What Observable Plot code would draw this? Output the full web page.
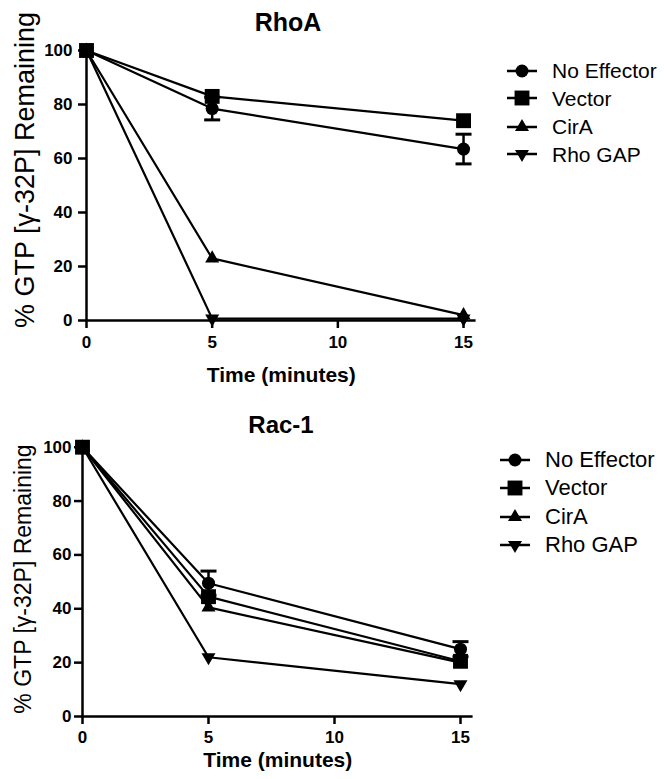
<!DOCTYPE html>
<html>
<head>
<meta charset="utf-8">
<script src="https://cdn.jsdelivr.net/npm/d3@7"></script>
<script src="https://cdn.jsdelivr.net/npm/@observablehq/plot@0.6"></script>
<style>
  html, body { margin: 0; padding: 0; background: #fff; }
  #page { position: relative; width: 664px; height: 779px; background: #fff; color: #000;
          font-family: "Liberation Sans", Arial, sans-serif; overflow: hidden; }
  .panel { position: absolute; left: 0; }
  .title { position: absolute; transform: translateX(-50%); font-weight: bold; white-space: nowrap; line-height: 1; }
  .ylab { position: absolute; white-space: nowrap; line-height: 1; transform: translate(-50%, -50%) rotate(-90deg); }
  .legrow { position: absolute; left: 0; display: flex; align-items: center; white-space: nowrap; line-height: 1; }
  .legrow svg { display: block; }
  .panel svg text { font-size: 17px !important; font-weight: bold !important; }
  .panel svg g[aria-label="x-axis label"] text { font-size: 21px !important; font-weight: bold !important; }
</style>
</head>
<body>
<div id="page"></div>
<script>
// ---------- data ----------
const times = [0, 5, 15];
const seriesNames = ["No Effector", "Vector", "CirA", "Rho GAP"];
const xTicks = [0, 5, 10, 15];
const yTicks = [0, 20, 40, 60, 80, 100];

// RhoA panel
const rhoaNoEffector = [100, 78.5, 63.5];
const rhoaVector     = [100, 83, 74];
const rhoaCirA       = [100, 23, 2];
const rhoaRhoGAP     = [100, 0.7, 0.7];
const rhoaNoEffectorErr = [0, 4.2, 5.5];

// Rac-1 panel
const racNoEffector = [100, 49.5, 25];
const racVector     = [100, 44.5, 20.5];
const racCirA       = [100, 40.5, 20];
const racRhoGAP     = [100, 22, 12];
const racNoEffectorErr = [0, 4.5, 2.8];

const title1 = "RhoA";
const title2 = "Rac-1";
const xLabel = "Time (minutes)";
const yLabel = "% GTP [γ-32P] Remaining";

// ---------- symbols ----------
const sqrt3 = Math.sqrt(3);
const markCircle = { draw(ctx, size) { const r = Math.sqrt(size / Math.PI) * 0.93; ctx.moveTo(r, 0); ctx.arc(0, 0, r, 0, 2 * Math.PI); } };
const markSquare = { draw(ctx, size) { const w = Math.sqrt(size) * 0.6; ctx.rect(-w, -w, 2 * w, 2 * w); } };
const markTriUp = {
  draw(ctx, size) {
    const y = Math.sqrt(size * 0.55 / (sqrt3 * 3));
    ctx.moveTo(0, -y * 2); ctx.lineTo(-sqrt3 * y, y); ctx.lineTo(sqrt3 * y, y); ctx.closePath();
  }
};
const markTriDown = {
  draw(ctx, size) {
    const y = Math.sqrt(size * 0.55 / (sqrt3 * 3));
    ctx.moveTo(0, y * 2); ctx.lineTo(-sqrt3 * y, -y); ctx.lineTo(sqrt3 * y, -y); ctx.closePath();
  }
};
const capSymbol = {
  draw(ctx, size) { const w = Math.sqrt(size / Math.PI); ctx.moveTo(-w, 0); ctx.lineTo(w, 0); }
};
const symbolRange = [markCircle, markSquare, markTriUp, markTriDown];

function buildRows(seriesValues) {
  const rows = [];
  seriesNames.forEach((s, i) => times.forEach((t, j) => rows.push({series: s, t, v: seriesValues[i][j]})));
  return rows;
}
function buildErr(vals, errs) {
  return times.map((t, j) => ({t, lo: vals[j] - errs[j], hi: vals[j] + errs[j]})).filter((d, j) => errs[j] > 0);
}

function panel({rows, errs, width, height, marginLeft, marginRight, marginTop, marginBottom, labelOffset, tickPadX, tickPadY}) {
  const svg = Plot.plot({
    width, height, marginLeft, marginRight, marginTop, marginBottom,
    style: {fontFamily: "Liberation Sans, Arial, sans-serif", background: "white", color: "black", overflow: "visible"},
    x: {domain: [0, 15.5]},
    y: {domain: [0, 100]},
    symbol: {domain: seriesNames, range: symbolRange},
    marks: [
      Plot.axisX({ticks: xTicks, tickFormat: d => String(d), tickSize: 8, tickPadding: tickPadX, strokeWidth: 2.5,
                  fontSize: 17, fontWeight: "bold",
                  label: xLabel, labelAnchor: "center", labelOffset, labelArrow: "none"}),
      Plot.axisY({ticks: yTicks, tickFormat: d => String(d), tickSize: 8, tickPadding: tickPadY, strokeWidth: 2.5,
                  fontSize: 17, fontWeight: "bold", label: null}),
      Plot.ruleY([0], {strokeWidth: 2.5}),
      Plot.ruleX([0], {strokeWidth: 2.5}),
      Plot.line(rows, {x: "t", y: "v", z: "series", stroke: "black", strokeWidth: 2.2}),
      Plot.ruleX(errs, {x: "t", y1: "lo", y2: "hi", stroke: "black", strokeWidth: 2.5}),
      Plot.dot(errs, {x: "t", y: "hi", symbol: capSymbol, r: 8, stroke: "black", strokeWidth: 3}),
      Plot.dot(errs, {x: "t", y: "lo", symbol: capSymbol, r: 8, stroke: "black", strokeWidth: 3}),
      Plot.dot(rows, {x: "t", y: "v", symbol: "series", r: 7, fill: "black", stroke: "none"})
    ]
  });
  d3.select(svg).selectAll('g[aria-label="x-axis tick label"] text, g[aria-label="y-axis tick label"] text')
    .style("font-size", "17px").style("font-weight", "bold");
  return svg;
}

const page = document.getElementById("page");

function addPanel(top, cfg, title, titleX, titleTop, titleSize, ylabX, ylabY, ylabSize, legLeft, legTops, legSize) {
  const wrap = document.createElement("div");
  wrap.className = "panel";
  wrap.style.top = top + "px";
  wrap.appendChild(panel(cfg));
  page.appendChild(wrap);

  const t = document.createElement("div");
  t.className = "title";
  t.textContent = title;
  t.style.left = titleX + "px";
  t.style.top = titleTop + "px";
  t.style.fontSize = titleSize + "px";
  page.appendChild(t);

  const yl = document.createElement("div");
  yl.className = "ylab";
  yl.textContent = yLabel;
  yl.style.left = ylabX + "px";
  yl.style.top = ylabY + "px";
  yl.style.fontSize = ylabSize + "px";
  page.appendChild(yl);

  seriesNames.forEach((s, i) => {
    const row = document.createElement("div");
    row.className = "legrow";
    row.style.left = legLeft + "px";
    row.style.top = (legTops[i] - 12) + "px";
    row.style.height = "24px";
    row.style.fontSize = legSize + "px";
    const svg = d3.create("svg").attr("width", 47).attr("height", 24);
    svg.append("line").attr("x1", 2).attr("x2", 32).attr("y1", 12).attr("y2", 12).attr("stroke", "black").attr("stroke-width", 2.5);
    svg.append("path").attr("transform", "translate(17,12)").attr("d", d3.symbol(symbolRange[i], Math.PI * 49)()).attr("fill", "black");
    row.appendChild(svg.node());
    const span = document.createElement("span");
    span.textContent = s;
    row.appendChild(span);
    page.appendChild(row);
  });
}

addPanel(0, {
  rows: buildRows([rhoaNoEffector, rhoaVector, rhoaCirA, rhoaRhoGAP]),
  errs: buildErr(rhoaNoEffector, rhoaNoEffectorErr),
  width: 480, height: 390, marginLeft: 86, marginRight: 4.4, marginTop: 50, marginBottom: 70,
  labelOffset: 61, tickPadX: 7, tickPadY: 6
}, title1, 288, 10, 25, 25, 170, 27, 505, [70.7, 98.3, 126.7, 154], 21);

addPanel(400, {
  rows: buildRows([racNoEffector, racVector, racCirA, racRhoGAP]),
  errs: buildErr(racNoEffector, racNoEffectorErr),
  width: 480, height: 379, marginLeft: 82, marginRight: 7.4, marginTop: 46.7, marginBottom: 63,
  labelOffset: 50, tickPadX: 6, tickPadY: 3
}, title2, 281, 413, 24, 23, 579, 23, 498, [460, 488, 517, 545], 22);
</script>
</body>
</html>
